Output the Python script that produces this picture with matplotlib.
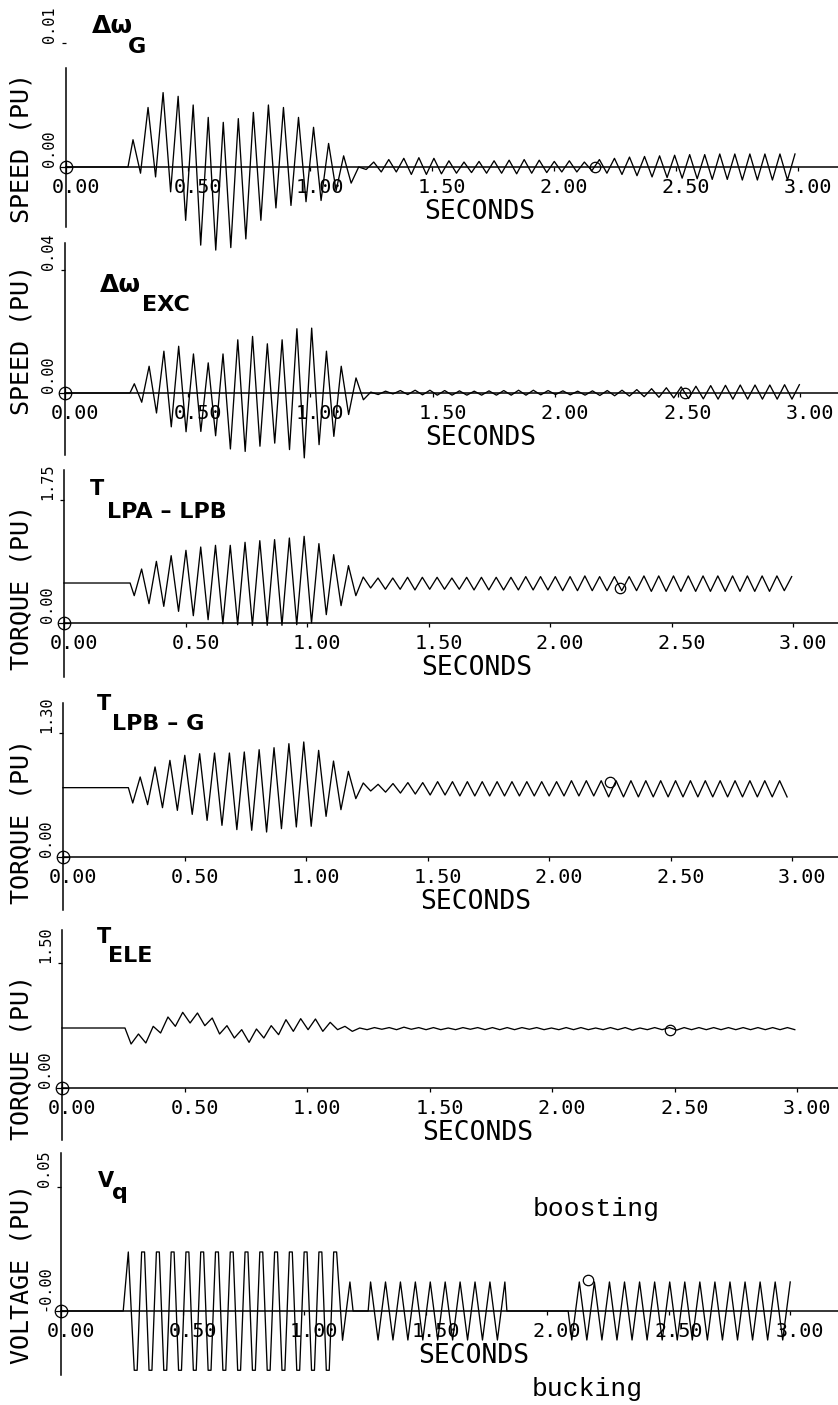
import matplotlib.pyplot as plt
from matplotlib.transforms import ScaledTranslation

W, H = 838, 1405

# time axis
xtick_vals = [0.0, 0.5, 1.0, 1.5, 2.0, 2.5, 3.0]
xtick_text = ["0.00", "0.50", "1.00", "1.50", "2.00", "2.50", "3.00"]

# Each trace: level before the disturbance, onset time, time of the first
# extremum, half period of the oscillation, then peak/trough values in order.

# generator speed deviation, values in 1e-3 pu
dwg_pre, dwg_onset, dwg_first, dwg_half = 0.0, 0.254, 0.2746, 0.03083
dwg = [2.2, -0.5, 4.8, -0.8, 6.0, -2.0, 5.7, -4.3, 5.0, -6.3, 4.0, -6.7,
       3.6, -6.5, 3.9, -5.8, 4.4, -4.3, 5.0, -3.3, 4.8, -3.1, 4.0, -2.8,
       3.2, -2.7, 1.9, -1.9, 0.9, -1.3,
       0.0, -0.2, 0.4, -0.4, 0.6, -0.4, 0.7, -0.6, 0.75, -0.6, 0.7, -0.55,
       0.5, -0.5, 0.4, -0.45, 0.45, -0.5, 0.5, -0.5, 0.55, -0.55, 0.6, -0.5,
       0.55, -0.45, 0.45, -0.4, 0.5, -0.4, 0.4, -0.3, 0.6, -0.5, 0.7, -0.6,
       0.8, -0.7, 0.85, -0.8, 0.9, -0.85, 0.95, -0.9, 1.0, -0.95, 1.0, -1.0,
       1.05, -1.0, 1.05, -1.05, 1.05, -1.05, 1.05, -1.05, 1.05, -1.05, 1.05]

# exciter speed deviation, values in 1e-3 pu
dwe_pre, dwe_onset, dwe_first, dwe_half = 0.0, 0.265, 0.283, 0.03016
dwe = [3.0, -3.0, 8.7, -6.5, 13.6, -11.0, 15.2, -12.6, 12.7, -12.5, 9.8, -13.9,
       12.7, -18.2, 17.3, -19.0, 18.4, -17.3, 16.0, -16.3, 17.3, -18.4,
       20.9, -21.1, 21.1, -16.8, 13.6, -14.1, 8.7, -7.0, 4.9, -2.2,
       0.3, -0.5, 0.6, -0.3, 0.8, -0.5, 0.9, -0.6, 0.9, -0.7, 0.8, -0.7,
       0.7, -0.7, 0.6, -0.7, 0.7, -0.7, 0.8, -0.7, 0.9, -0.7, 0.9, -0.6,
       0.8, -0.5, 0.7, -0.6, 0.6, -0.7, 0.7, -0.8, 0.8, -0.9, 0.9, -1.0,
       1.1, -1.2, 1.4, -1.4, 1.7, -1.6, 2.0, -1.8, 2.2, -1.9, 2.4, -2.0,
       2.5, -2.0, 2.6, -2.0, 2.6, -2.0, 2.6, -2.0, 2.7, -2.0, 2.7]

# shaft torque LPA-LPB, pu
tab_pre, tab_onset, tab_first, tab_half = 0.569, 0.272, 0.289, 0.0304
tab = [0.389, 0.768, 0.275, 0.877, 0.237, 0.958, 0.166, 1.034, 0.104, 1.081,
       0.047, 1.105, -0.01, 1.105, -0.024, 1.148, -0.033, 1.171, -0.033, 1.186,
       -0.033, 1.209, -0.024, 1.233, 0.0, 1.129, 0.119, 0.972, 0.247, 0.816,
       0.389, 0.654, 0.498, 0.640,
       0.48, 0.64, 0.48, 0.65, 0.47, 0.65, 0.48, 0.65, 0.48, 0.64, 0.48, 0.65,
       0.47, 0.65, 0.47, 0.65, 0.47, 0.65, 0.47, 0.66, 0.47, 0.66, 0.47, 0.66,
       0.46, 0.66, 0.46, 0.67, 0.46, 0.66, 0.46, 0.66, 0.46, 0.66, 0.46, 0.67,
       0.45, 0.67, 0.45, 0.67, 0.45, 0.67, 0.45, 0.67, 0.45, 0.67, 0.45, 0.67,
       0.45, 0.67, 0.45, 0.67, 0.45, 0.67, 0.46, 0.66]

# shaft torque LPB-G, pu
tbg_pre, tbg_onset, tbg_first, tbg_half = 0.727, 0.269, 0.287, 0.0306
tbg = [0.566, 0.839, 0.549, 0.944, 0.517, 1.013, 0.489, 1.066, 0.447, 1.083,
       0.384, 1.090, 0.332, 1.090, 0.287, 1.101, 0.280, 1.125, 0.262, 1.146,
       0.297, 1.188, 0.315, 1.206, 0.322, 1.118, 0.426, 1.006, 0.496, 0.898,
       0.612, 0.776, 0.692, 0.762,
       0.68, 0.77, 0.67, 0.78, 0.66, 0.78, 0.65, 0.79, 0.65, 0.79, 0.64, 0.79,
       0.64, 0.79, 0.64, 0.79, 0.64, 0.79, 0.64, 0.79, 0.64, 0.79, 0.64, 0.79,
       0.64, 0.80, 0.64, 0.80, 0.64, 0.80, 0.63, 0.80, 0.63, 0.80, 0.63, 0.80,
       0.63, 0.80, 0.63, 0.80, 0.63, 0.80, 0.63, 0.80, 0.63, 0.80, 0.63, 0.80,
       0.63, 0.80, 0.63, 0.80, 0.63, 0.80, 0.63]

# electrical torque, pu
tel_pre, tel_onset, tel_first, tel_half = 0.72, 0.257, 0.282, 0.0301
tel = [0.528, 0.648, 0.54, 0.74, 0.66, 0.852, 0.74, 0.908, 0.78, 0.90,
       0.748, 0.84, 0.648, 0.748, 0.60, 0.70, 0.548, 0.708, 0.60, 0.748,
       0.64, 0.82, 0.68, 0.832, 0.70, 0.828, 0.68, 0.788, 0.70, 0.74,
       0.68, 0.72,
       0.70, 0.725, 0.705, 0.725, 0.70, 0.73, 0.705, 0.725, 0.70, 0.725,
       0.70, 0.72, 0.70, 0.725, 0.705, 0.725, 0.70, 0.725, 0.70, 0.725,
       0.70, 0.725, 0.705, 0.725, 0.70, 0.72, 0.70, 0.725, 0.70, 0.725,
       0.70, 0.72, 0.70, 0.725, 0.70, 0.725, 0.695, 0.72, 0.70, 0.725,
       0.70, 0.725, 0.695, 0.725, 0.70, 0.725, 0.70, 0.725, 0.70, 0.725,
       0.70, 0.725, 0.70, 0.725, 0.70, 0.725, 0.70, 0.725, 0.70]

# q-axis voltage, values in 1e-3 pu, three bursts separated by zero
vq_onset = [0.256, 1.264, 2.087]
vq_first = [0.277, 1.274, 2.102]
vq_half = [0.0304, 0.0307, 0.0310]
vq_end = [1.202, 1.835, None]
vq_burst1 = [23.8, -23.9] * 14 + [23.8, -11.8, 11.7]
vq_burst2 = [11.7, -11.7] * 9 + [11.7]
vq_burst3 = [-11.7, 11.7] * 15
vq_clip = 20.0   # values beyond this are clipped flat by the limiter

# cursor circles drawn by the plotter on each trace (t, value)
cursor_t = [2.17, 2.53, 2.29, 2.25, 2.48, 2.17]
cursor_v = [0.0, 0.0, 0.50, 0.79, 0.70, 0.0125]


def build(pre, onset, first, half, vals, unit=1.0):
    t = [0.0, onset]
    v = [pre, pre]
    for i, val in enumerate(vals):
        t.append(first + i * half)
        v.append(val * unit)
    return t, v


def build_vq(unit=1e-3, flat=0.012):
    t, v = [0.0], [0.0]
    bursts = [vq_burst1, vq_burst2, vq_burst3]
    for b in range(3):
        t.append(vq_onset[b]); v.append(0.0)
        for i, val in enumerate(bursts[b]):
            tc = vq_first[b] + i * vq_half[b]
            if i > 0 and abs(val) > vq_clip:
                t += [tc - flat / 2, tc + flat / 2]
                v += [val * unit, val * unit]
            else:
                t.append(tc); v.append(val * unit)
        if vq_end[b] is not None:
            t.append(vq_end[b]); v.append(0.0)
    return t, v


traces = [
    build(dwg_pre, dwg_onset, dwg_first, dwg_half, dwg, 1e-3),
    build(dwe_pre, dwe_onset, dwe_first, dwe_half, dwe, 1e-3),
    build(tab_pre, tab_onset, tab_first, tab_half, tab),
    build(tbg_pre, tbg_onset, tbg_first, tbg_half, tbg),
    build(tel_pre, tel_onset, tel_first, tel_half, tel),
    build_vq(),
]

# panel geometry in pixels: axis x, px per second, axis top, top tick,
# top tick value, zero line, axis bottom
panels = [
    dict(g=(66, 244, 68, 43, 0.01, 167, 227), ylab="SPEED (PU)", yc=148,
         top="0.01", zero="0.00",
         title=("\u0394\u03c9", 92, 33, 18, "G", 128, 53)),
    dict(g=(65, 245, 243, 270, 0.04, 393, 455), ylab="SPEED (PU)", yc=340,
         top="0.04", zero="0.00",
         title=("\u0394\u03c9", 100, 292, 18, "EXC", 142, 311)),
    dict(g=(64, 243, 470, 500, 1.75, 623, 677), ylab="TORQUE (PU)", yc=588,
         top="1.75", zero="0.00",
         title=("T", 90, 495, 15, "LPA \u2013 LPB", 107, 518)),
    dict(g=(63, 243, 703, 733, 1.30, 857, 910), ylab="TORQUE (PU)", yc=821,
         top="1.30", zero="0.00",
         title=("T", 97, 710, 15, "LPB \u2013 G", 112, 730)),
    dict(g=(62, 245, 930, 963, 1.50, 1088, 1140), ylab="TORQUE (PU)", yc=1058,
         top="1.50", zero="0.00",
         title=("T", 97, 943, 15, "ELE", 108, 962)),
    dict(g=(61, 243, 1153, 1187, 0.05, 1311, 1375), ylab="VOLTAGE (PU)", yc=1274,
         top="0.05", zero="-0.00",
         title=("V", 98, 1187, 15, "q", 112, 1199)),
]

mono = "DejaVu Sans Mono"
bold = "DejaVu Sans"

fig = plt.figure(figsize=(W / 100, H / 100), dpi=100)
fig.patch.set_facecolor("white")

for n, p in enumerate(panels):
    x0, pps, top, tick, vt, zero, bot = p["g"]
    k = vt / (zero - tick)
    box_top = min(top, tick) - 40
    ax = fig.add_axes([x0 / W, 1 - bot / H, (W - x0) / W, (bot - box_top) / H])
    ax.set_xlim(0, (W - x0) / pps)
    ax.set_ylim(-(bot - zero) * k, (zero - box_top) * k)
    ax.patch.set_visible(False)
    ax.spines["top"].set_visible(False)
    ax.spines["right"].set_visible(False)
    ax.spines["bottom"].set_position(("data", 0))
    ax.spines["left"].set_bounds(-(bot - zero) * k, (zero - top) * k)
    ax.spines["bottom"].set_linewidth(1.1)
    ax.spines["left"].set_linewidth(1.1)
    ax.set_xticks(xtick_vals[1:])
    ax.set_xticklabels([])
    ax.set_yticks([vt])
    ax.set_yticklabels([])
    ax.tick_params(direction="out", length=3, width=0.9)

    t, v = traces[n]
    ax.plot(t, v, color="k", lw=0.95, clip_on=False)

    # plotter circles
    ax.plot([0], [0], marker="o", ms=9, mfc="none", mec="k", mew=0.9, clip_on=False)
    ax.plot([0], [0], marker="+", ms=9, mec="k", mew=0.9, clip_on=False)
    ax.plot([cursor_t[n]], [cursor_v[n]], marker="o", ms=7.5, mfc="none",
            mec="k", mew=0.9, clip_on=False)

    def off(dx, dy):
        return ax.transData + ScaledTranslation(dx / 100, dy / 100, fig.dpi_scale_trans)

    for tv, tl in zip(xtick_vals, xtick_text):
        ax.text(tv, 0, tl, transform=off(10, -11), ha="center", va="top",
                fontsize=14.5, family=mono)
    ax.text(1.47, 0, "SECONDS", transform=off(0, -32), ha="left", va="top",
            fontsize=19, family=mono)
    ax.text(0, vt, p["top"], transform=off(-9, 0), rotation=90, ha="right",
            va="bottom", fontsize=11, family=mono)
    ax.text(0, 0, p["zero"], transform=off(-9, 0), rotation=90, ha="right",
            va="bottom", fontsize=11, family=mono)

    fig.text(22 / W, 1 - p["yc"] / H, p["ylab"], rotation=90, ha="center",
             va="center", fontsize=18, family=mono)

    main, mx, my, msz, sub, sx, sy = p["title"]
    fig.text(mx / W, 1 - my / H, main, ha="left", va="baseline", fontsize=msz,
             fontweight="bold", family=bold)
    fig.text(sx / W, 1 - sy / H, sub, ha="left", va="baseline", fontsize=16,
             fontweight="bold", family=bold)

fig.text(533 / W, 1 - 1216 / H, "boosting", ha="left", va="baseline",
         fontsize=19, family="Liberation Mono")
fig.text(532 / W, 1 - 1396 / H, "bucking", ha="left", va="baseline",
         fontsize=19, family="Liberation Mono")

fig.savefig("out.png", dpi=100)
